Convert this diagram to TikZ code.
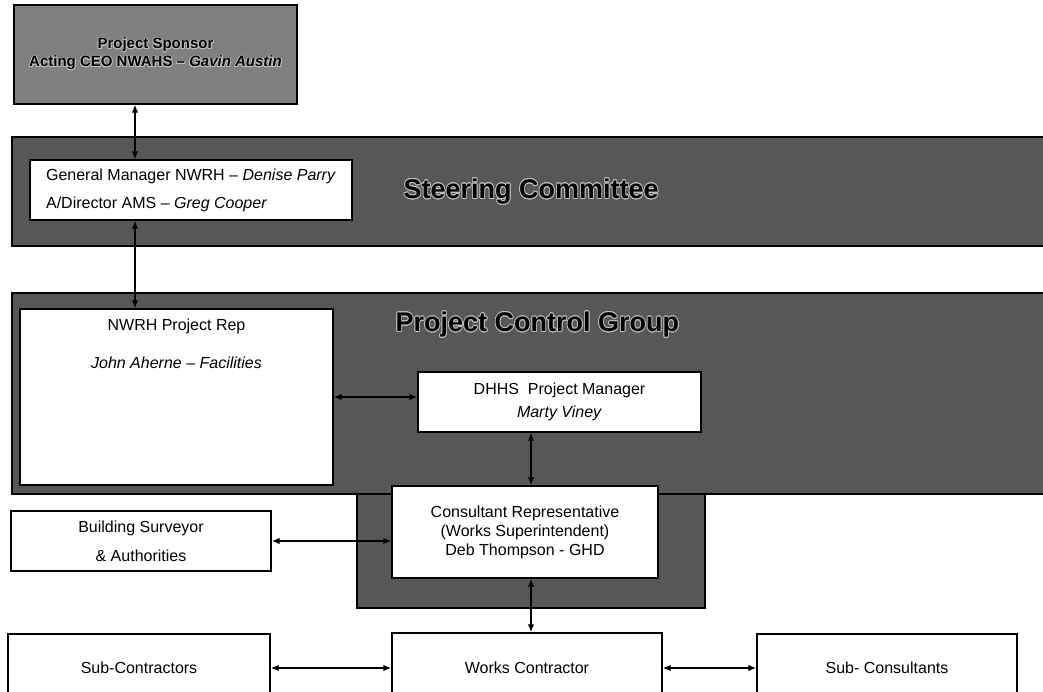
\documentclass[tikz,border=0pt]{standalone}
\usepackage{fontspec}
\setmainfont{Liberation Sans}
\usepackage{contour}
\contourlength{0.8pt}
\usetikzlibrary{arrows.meta}

\colorlet{sponsorgray}{black!50}
\colorlet{bandgray}{black!66}
\colorlet{halo}{black!25}

\begin{document}
\begin{tikzpicture}[x = 1pt, y = -1pt, line width = 1.3pt,
                      >={Latex[length=8pt, width=6.5pt]},
                      box/.style = {draw, fill = white, inner sep = 0pt, align = center},
                      band/.style = {draw, line width = 1.8pt, fill = bandgray},
                      title/.style = {anchor = west, inner sep = 0pt, font = \fontsize{27}{32}\selectfont\bfseries},
                      conn/.style = {<->, line width = 1.8pt},
                      font = \fontsize{16}{19}\selectfont]
    \useasboundingbox (0, 0) rectangle (1043, 691);

    % grey bands behind the groups
    \draw[band] (12, 137) rectangle (1050, 246);
    \draw[band] (357, 470) rectangle (705, 608);
    \draw[band] (12, 293) rectangle (1050, 494);

    \node [box, fill = sponsorgray, minimum width = 283pt, minimum height = 99pt,
           font = \fontsize{15}{18}\selectfont\bfseries] (sponsor) at (155.5, 54.5)
          {\contour{halo}{Project Sponsor}\\ \contour{halo}{Acting CEO NWAHS -- \textit{Gavin Austin}}};

    \node [box, minimum width = 322pt, minimum height = 60pt, align = left] (gm) at (191, 190)
          {General Manager NWRH -- \textit{Denise Parry}\\[9pt]A/Director AMS -- \textit{Greg Cooper}};
    \node [title] (steertitle) at (403, 192) {\contour{halo}{Steering Committee}};

    \node [box, minimum width = 313pt, minimum height = 176pt] (rep) at (176.5, 397) {};
    \node [anchor = north, inner sep = 0pt, align = center] (reptext) at (176.5, 318)
          {NWRH Project Rep\\[19pt]\textit{John Aherne -- Facilities}};
    \node [title] (pcgtitle) at (395, 325) {\contour{halo}{Project Control Group}};

    \node [box, minimum width = 283pt, minimum height = 60pt] (dhhs) at (559.5, 402)
          {DHHS~ Project Manager\\[4pt]\textit{Marty Viney}};
    \node [box, minimum width = 266pt, minimum height = 92pt] (cons) at (525, 532)
          {Consultant Representative\\(Works Superintendent)\\Deb Thompson - GHD};
    \node [box, minimum width = 260pt, minimum height = 60pt] (bs) at (141, 541)
          {Building Surveyor\\[10pt]\& Authorities};

    \node [box, minimum width = 262pt, minimum height = 68pt] (subcon) at (139, 668) {Sub-Contractors};
    \node [box, minimum width = 270pt, minimum height = 70pt] (works) at (527, 668) {Works Contractor};
    \node [box, minimum width = 260pt, minimum height = 68pt] (subcons) at (887, 668) {Sub- Consultants};

    \coordinate (spine) at (135, 0);
    \coordinate (drop) at (531, 0);
    \draw[conn] (sponsor.south -| spine) -- (gm.north -| spine);
    \draw[conn] (gm.south -| spine) -- (rep.north -| spine);
    \draw[conn] (rep.east) -- (rep.east -| dhhs.west);
    \draw[conn] (dhhs.south -| drop) -- (cons.north -| drop);
    \draw[conn] (cons.west |- bs.east) -- (bs.east);
    \draw[conn] (cons.south -| drop) -- (works.north -| drop);
    \draw[conn] (subcon.east) -- (works.west);
    \draw[conn] (works.east) -- (subcons.west);
\end{tikzpicture}
\end{document}
